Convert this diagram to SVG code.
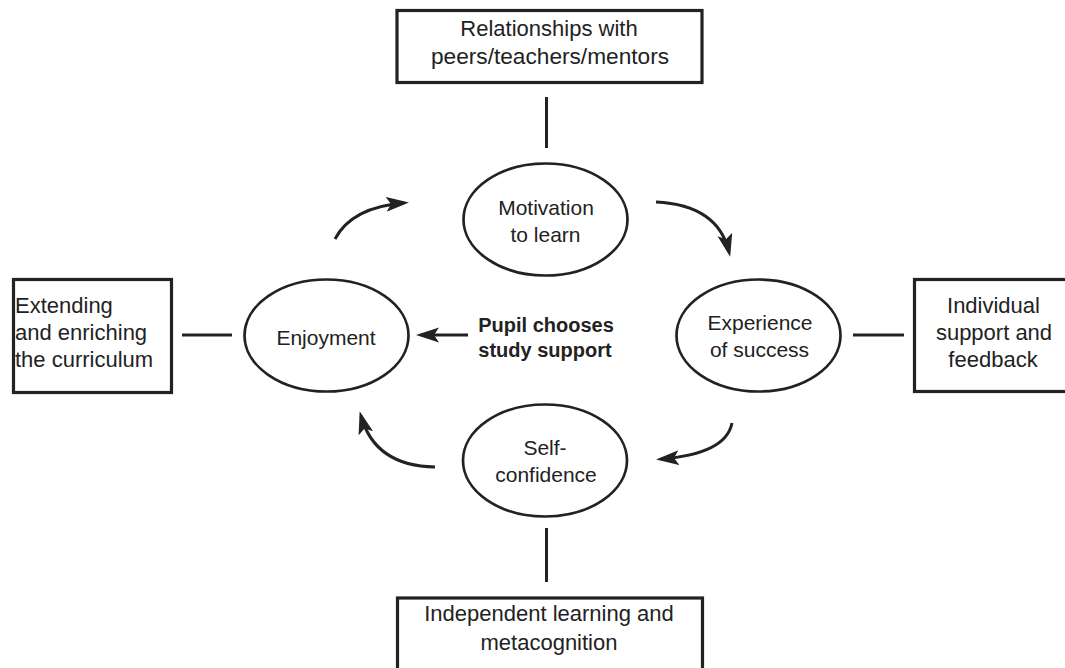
<svg xmlns="http://www.w3.org/2000/svg" width="1065" height="668" viewBox="0 0 1065 668">
  <defs>
    <style>
      .box { fill: #fff; stroke: #222; stroke-width: 3.2; }
      .oval { fill: #fff; stroke: #222; stroke-width: 2.7; }
      .link { stroke: #222; stroke-width: 3; fill: none; }
      .flow { stroke: #222; stroke-width: 3; fill: none; marker-end: url(#head); }
      .t { font-family: "Liberation Sans", Arial, sans-serif; font-size: 21px; fill: #222; text-anchor: middle; }
      .bx { font-size: 22px; }
      .l { text-anchor: start; }
      .b { font-weight: bold; font-size: 20px; }
    </style>
    <marker id="head" markerUnits="userSpaceOnUse" markerWidth="26" markerHeight="16" refX="18" refY="7.5" orient="auto">
      <path d="M0,0 L23,7.5 L0,15 L5,7.5 z" fill="#222"/>
    </marker>
  </defs>
  <rect width="1065" height="668" fill="#fff"/>

  <!-- connectors -->
  <g id="connectors">
    <line class="link" x1="546.5" y1="97" x2="546.5" y2="148"/>
    <line class="link" x1="182" y1="335" x2="232" y2="335"/>
    <line class="link" x1="853" y1="335" x2="904" y2="335"/>
    <line class="link" x1="546.5" y1="528" x2="546.5" y2="582"/>
    <path class="flow" d="M335,239 Q352,207 404,203"/>
    <path class="flow" d="M656,202 Q718,205 729,252"/>
    <path class="flow" d="M732,423 Q726,454 661,459"/>
    <path class="flow" d="M435,467 Q375,466 361,416"/>
    <path class="flow" d="M468,335 L421,335"/>
  </g>

  <g id="relationships">
    <rect class="box" x="397" y="10.5" width="305" height="72"/>
    <text class="t bx" x="549" y="36">Relationships with</text>
    <text class="t bx" x="550" y="64" textLength="238" lengthAdjust="spacingAndGlyphs">peers/teachers/mentors</text>
  </g>

  <g id="extending">
    <rect class="box" x="13.5" y="279.5" width="158" height="113"/>
    <text class="t bx l" x="15" y="313">Extending</text>
    <text class="t bx l" x="15" y="340">and enriching</text>
    <text class="t bx l" x="15" y="367">the curriculum</text>
  </g>

  <g id="individual">
    <rect class="box" x="914.5" y="279.5" width="160" height="112"/>
    <text class="t bx" x="993.5" y="313">Individual</text>
    <text class="t bx" x="994" y="340">support and</text>
    <text class="t bx" x="993" y="367">feedback</text>
  </g>

  <g id="independent">
    <rect class="box" x="397.5" y="598" width="305" height="100"/>
    <text class="t bx" x="549" y="621">Independent learning and</text>
    <text class="t bx" x="549" y="650">metacognition</text>
  </g>

  <g id="motivation">
    <ellipse class="oval" cx="545.5" cy="219.5" rx="82" ry="56"/>
    <text class="t" x="546" y="215">Motivation</text>
    <text class="t" x="545.5" y="242">to learn</text>
  </g>

  <g id="enjoyment">
    <ellipse class="oval" cx="326.5" cy="335.5" rx="82" ry="56"/>
    <text class="t" x="326" y="345">Enjoyment</text>
  </g>

  <g id="experience">
    <ellipse class="oval" cx="758.5" cy="335.5" rx="82" ry="56"/>
    <text class="t" x="760" y="330">Experience</text>
    <text class="t" x="759.5" y="357">of success</text>
  </g>

  <g id="self-confidence">
    <ellipse class="oval" cx="545" cy="460.5" rx="82" ry="56"/>
    <text class="t" x="545" y="455">Self-</text>
    <text class="t" x="546" y="482">confidence</text>
  </g>

  <g id="pupil">
    <text class="t b" x="546" y="332">Pupil chooses</text>
    <text class="t b" x="545" y="357">study support</text>
  </g>
</svg>
